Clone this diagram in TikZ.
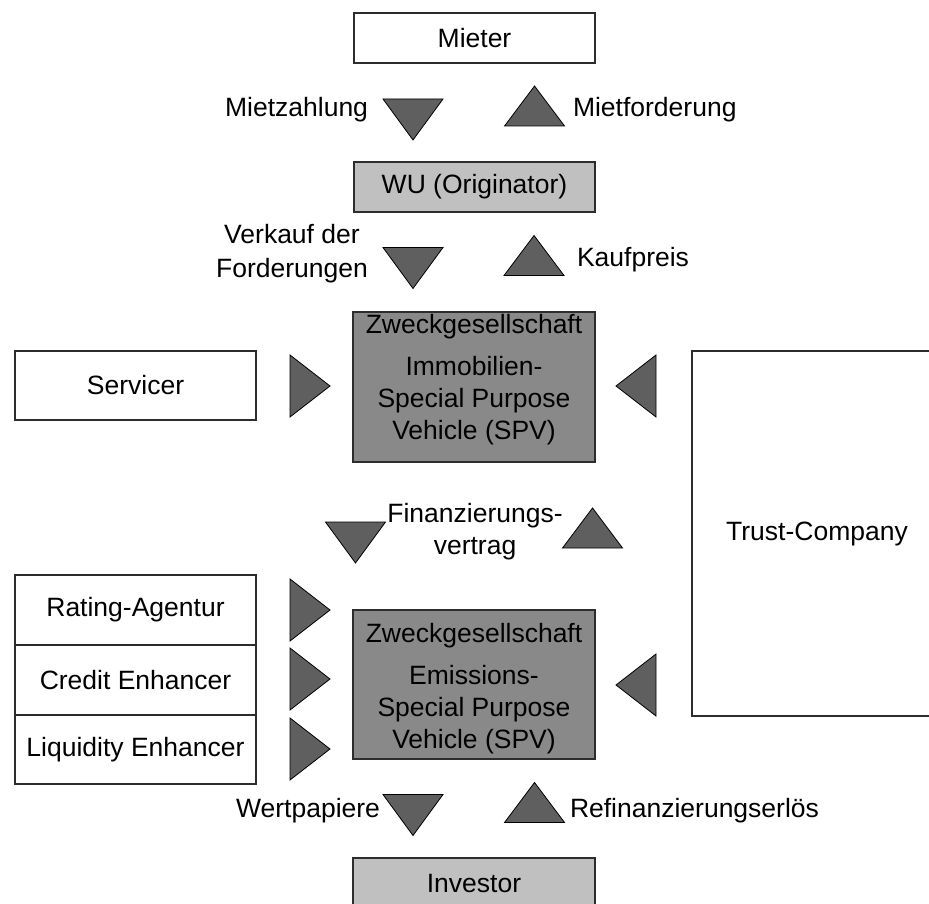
\documentclass[tikz,border=0pt]{standalone}
\usepackage{fontspec}
\setmainfont{Liberation Sans}
\definecolor{boxline}{RGB}{45,45,45}
\definecolor{spvfill}{RGB}{137,137,137}
\definecolor{lightfill}{RGB}{192,192,192}
\definecolor{trifill}{RGB}{95,95,95}
\tikzset{
  tri/.style={fill=trifill, draw=black, line width=0.8pt, line join=miter},
  tridown/.pic={\path[tri] (-30,-20.5) -- (30,-20.5) -- (0,20.5) -- cycle;},
  triup/.pic={\path[tri] (-30,20) -- (30,20) -- (0,-20) -- cycle;},
  triright/.pic={\path[tri] (-20,-31) -- (-20,31) -- (20,0) -- cycle;},
  trileft/.pic={\path[tri] (20,-31) -- (20,31) -- (-20,0) -- cycle;},
}
\begin{document}
\begin{tikzpicture}[x=1pt,y=-1pt,
  every node/.style={font=\fontsize{26.5}{32}\selectfont, inner sep=0pt, outer sep=0pt},
  box/.style={rectangle, draw=boxline, line width=1.3pt, fill=white},
  wide/.style={minimum width=241pt},
  party/.style={box, wide, minimum height=50pt},
  lightbox/.style={box, fill=lightfill},
  spvbox/.style={box, fill=spvfill, minimum width=242pt, minimum height=150pt},
  sidebox/.style={box, wide, minimum height=70pt},
]
\useasboundingbox (0,0) rectangle (929,904);
\clip (0,0) rectangle (929,904);

% parties in the main column
\node[party] (mieter) at (474.5,38) {Mieter};
\node[party, lightbox] (wu) at (474.5,187) {WU (Originator)};
\node[spvbox] (spv1) at (474,387) {};
\node[align=center] (spv1txt) at (474,380)
  {Zweckgesellschaft\\[10pt]Immobilien-\\Special Purpose\\Vehicle (SPV)};
\node[spvbox, minimum height=149pt] (spv2) at (474,684.5) {};
\node[align=center] (spv2txt) at (474,689)
  {Zweckgesellschaft\\[10pt]Emissions-\\Special Purpose\\Vehicle (SPV)};
\node[box, lightbox, minimum width=242pt, minimum height=52pt] (investor) at (474,884) {Investor};

% parties at the sides
\node[sidebox, minimum height=69pt] (servicer) at (135.5,385.5) {Servicer};
\node[sidebox] (rating) at (135.5,610) {Rating-Agentur};
\node[sidebox] (credit) at (135.5,680) {Credit Enhancer};
\node[sidebox, minimum height=69pt] (liquidity) at (135.5,749.5) {Liquidity Enhancer};
\node[box, minimum width=250pt, minimum height=365pt] (trust) at (817,533.5) {Trust-Company};

% flow arrows
\pic at (413,119.5) {tridown};
\pic at (534.5,106) {triup};
\pic at (413,268) {tridown};
\pic at (534,255.5) {triup};
\pic at (355.5,542.5) {tridown};
\pic at (592.5,528) {triup};
\pic at (413,815) {tridown};
\pic at (534.5,802.5) {triup};
\pic at (310,386) {triright};
\pic at (636,386) {trileft};
\pic at (310,610) {triright};
\pic at (310,679) {triright};
\pic at (310,749) {triright};
\pic at (636,685) {trileft};

% flow labels
\node[anchor=base east] (l1) at (368,117) {Mietzahlung};
\node[anchor=base west] (l2) at (573,117) {Mietforderung};
\node[align=center, font=\fontsize{26.5}{34}\selectfont] (l3) at (292,254) {Verkauf der\\Forderungen};
\node[anchor=base west] (l4) at (577,266) {Kaufpreis};
\node[align=center] (l5) at (475,532) {Finanzierungs-\\vertrag};
\node[anchor=base east] (l6) at (380,817) {Wertpapiere};
\node[anchor=base west] (l7) at (570,817) {Refinanzierungserlös};
\end{tikzpicture}
\end{document}
